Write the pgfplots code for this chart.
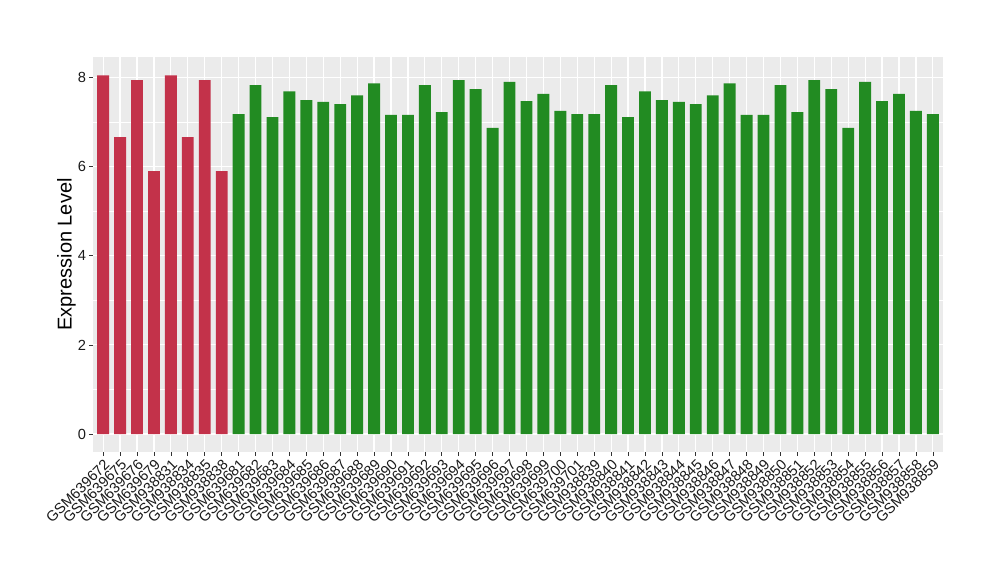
\documentclass[border=0pt]{standalone}
\usepackage{pgfplots}
\pgfplotsset{compat=1.18}
\usepackage{fontspec}
\setmainfont{Liberation Sans}

\definecolor{panelbg}{HTML}{EBEBEB}
\definecolor{barred}{RGB}{195,50,74}
\definecolor{bargreen}{RGB}{34,139,34}
\definecolor{ticktext}{HTML}{1A1A1A}

\begin{document}
\begin{tikzpicture}
\begin{axis}[
  at={(0,0)}, anchor=south west,
  scale only axis,
  width=637.5pt, height=296.25pt,
  ybar, bar width=0.7, bar shift=0pt,
  xmin=0.4, xmax=50.6,
  ymin=-0.403, ymax=8.46,
  xtick={1,...,50},
  xticklabels={GSM639672,GSM639675,GSM639676,GSM639679,GSM938831,GSM938834,GSM938835,GSM938838,
    GSM639681,GSM639682,GSM639683,GSM639684,GSM639685,GSM639686,GSM639687,GSM639688,GSM639689,GSM639690,
    GSM639691,GSM639692,GSM639693,GSM639694,GSM639695,GSM639696,GSM639697,GSM639698,GSM639699,GSM639700,GSM639701,
    GSM938839,GSM938840,GSM938841,GSM938842,GSM938843,GSM938844,GSM938845,GSM938846,GSM938847,GSM938848,GSM938849,
    GSM938850,GSM938851,GSM938852,GSM938853,GSM938854,GSM938855,GSM938856,GSM938857,GSM938858,GSM938859},
  ytick={0,2,4,6,8},
  minor ytick={1,3,5,7},
  xtick pos=bottom, ytick pos=left,
  grid=both,
  major grid style={white, line width=0.9pt},
  minor grid style={white, line width=0.45pt},
  axis background/.style={fill=panelbg},
  separate axis lines,
  axis line style={draw=none},
  tick align=outside,
  major tick length=3pt,
  minor tick length=0pt,
  tick style={color=black!80, line width=0.5pt},
  x tick label style={rotate=45, anchor=north east, font=\fontsize{11}{12}\selectfont, text=ticktext, inner sep=1pt},
  y tick label style={font=\fontsize{11}{12}\selectfont, text=ticktext, inner sep=2pt},
  /pgf/number format/assume math mode=true,
  ylabel={Expression Level},
  ylabel style={font=\fontsize{15}{17}\selectfont, yshift=-4pt},
]
\addplot[fill=barred, draw=none] coordinates {
  (1,8.05) (2,6.66) (3,7.94) (4,5.90) (5,8.05) (6,6.66) (7,7.94) (8,5.90)
};
\addplot[fill=bargreen, draw=none] coordinates {
  (9,7.18) (10,7.83) (11,7.11) (12,7.69) (13,7.49) (14,7.45) (15,7.40) (16,7.60) (17,7.87)
  (18,7.16) (19,7.16) (20,7.83) (21,7.22) (22,7.94) (23,7.74) (24,6.87) (25,7.90) (26,7.47)
  (27,7.63) (28,7.25) (29,7.18)
  (30,7.18) (31,7.83) (32,7.11) (33,7.69) (34,7.49) (35,7.45) (36,7.40) (37,7.60) (38,7.87)
  (39,7.16) (40,7.16) (41,7.83) (42,7.22) (43,7.94) (44,7.74) (45,6.87) (46,7.90) (47,7.47)
  (48,7.63) (49,7.25) (50,7.18)
};
\end{axis}
\pgfresetboundingbox
\path[use as bounding box] (-69.75pt,-96pt) rectangle (680.25pt,339pt);
\end{tikzpicture}
\end{document}
